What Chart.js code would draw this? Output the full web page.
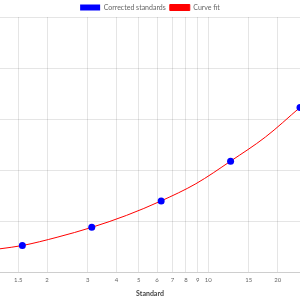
<!DOCTYPE html>
<html>
<head>
<meta charset="utf-8">
<script src="https://cdn.jsdelivr.net/npm/chart.js@4/dist/chart.umd.min.js"></script>
<style>
  html, body { margin: 0; padding: 0; background: #fff; }
  #wrap { width: 300px; height: 300px; }
</style>
</head>
<body>
<div id="wrap"><canvas id="chartStd"></canvas></div>
<script>
// standards (serial dilution) and measured values
const standardX = [1.5625, 3.125, 6.25, 12.5, 25]
const standardY = [0.263, 0.441, 0.7, 1.089, 1.615]

// curve fit
const curveX = [1.25, 1.5625, 2.21, 3.125, 4.42, 6.25, 8.84, 12.5, 17.7, 25]
const curveY = [0.231, 0.263, 0.344, 0.441, 0.558, 0.7, 0.868, 1.089, 1.325, 1.615]

const xTicks = [1.5, 2, 3, 4, 5, 6, 7, 8, 9, 10, 15, 20]

const toPoints = (xs, ys) => xs.map((x, i) => ({ x, y: ys[i] }))

Chart.defaults.font.family = 'Lato, "Noto Sans", sans-serif'

// legend sits a bit closer to the plot than the default spacing
const tightLegend = {
	id: 'tightLegend',
	afterInit(chart) {
		const legend = chart.legend
		const fit = legend.fit
		legend.fit = function () {
			fit.call(this)
			this.height -= 4
		}
	},
}

const ctx = document.getElementById('chartStd').getContext('2d')
const chartStd = new Chart(ctx, {
	type: 'scatter',
	data: {
		datasets: [
			{
				label: 'Corrected standards',
				data: toPoints(standardX, standardY),
				backgroundColor: '#0000ff',
				borderColor: '#0000ff',
				pointRadius: 3.5,
				borderWidth: 0,
				order: 0,
			},
			{
				label: 'Curve fit',
				data: toPoints(curveX, curveY),
				showLine: true,
				backgroundColor: '#ff0000',
				borderColor: '#ff0000',
				borderWidth: 1,
				pointRadius: 0,
				tension: 0.4,
				cubicInterpolationMode: 'monotone',
				order: 1,
			},
		],
	},
	options: {
		responsive: true,
		maintainAspectRatio: false,
		animation: false,
		layout: { padding: 0, autoPadding: false },
		scales: {
			x: {
				type: 'logarithmic',
				min: 1.25,
				max: 25,
				afterBuildTicks: (axis) => {
					axis.ticks = xTicks.map((v) => ({ value: v }))
				},
				afterFit: (axis) => {
					// no side padding, plot runs edge to edge
					axis.paddingLeft = 0
					axis.paddingRight = 0
				},
				ticks: {
					autoSkip: false,
					maxRotation: 0,
					color: '#666',
					font: { size: 6 },
					padding: 4,
					callback: (value) => String(value),
				},
				grid: { color: 'rgba(0,0,0,0.1)', drawTicks: false },
				title: {
					display: true,
					text: 'Standard',
					color: '#444',
					font: { size: 7, weight: 'bold' },
					padding: { top: 2, bottom: 2 },
				},
			},
			y: {
				min: 0,
				max: 2.5,
				ticks: { display: false, stepSize: 0.5 },
				grid: { color: 'rgba(0,0,0,0.1)', drawTicks: false },
				border: { display: false },
			},
		},
		plugins: {
			legend: {
				display: true,
				position: 'top',
				labels: {
					boxWidth: 20,
					boxHeight: 6,
					padding: 4,
					color: '#666',
					font: { size: 7 },
				},
			},
			tooltip: { enabled: false },
		},
	},
	plugins: [tightLegend],
})
</script>
</body>
</html>
